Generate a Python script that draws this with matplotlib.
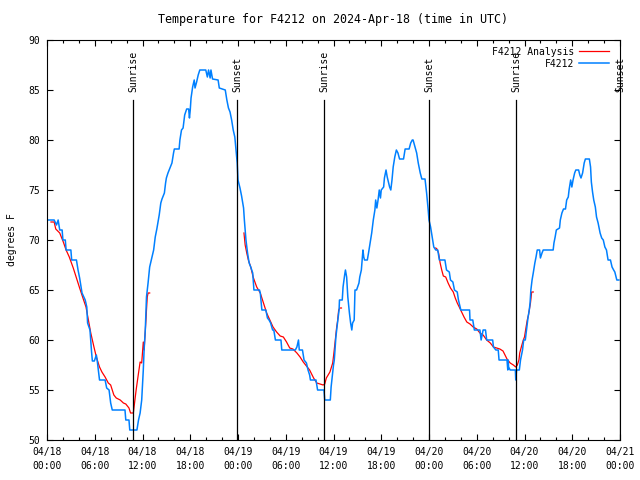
import matplotlib
matplotlib.use("Agg")
import matplotlib.pyplot as plt
import matplotlib.dates as mdates
import numpy as np

# hours since 2024-04-18 00:00 UTC, temperatures in degrees F
obs_hours = [0, 0.9, 1.2, 1.4, 1.6, 1.9, 2.0, 2.3, 2.4, 3.0, 3.1, 3.7, 3.9, 4.1, 4.4, 4.8, 5.0, 5.1,
             5.4, 5.6, 5.7, 5.95, 6.2, 6.3, 6.5, 6.6, 7.3, 7.5, 7.8, 8.0, 8.2, 9.8, 9.9, 10.3, 10.4,
             11.3, 11.5, 11.7, 11.9, 12.1, 12.2, 12.35, 12.5, 12.7, 12.9, 13.1, 13.4, 13.6, 13.8,
             14.1, 14.3, 14.45, 14.75, 14.9, 15.0, 15.2, 15.45, 15.7, 15.9, 16.0, 16.6, 16.7, 16.9,
             17.1, 17.3, 17.55, 17.8, 17.9, 18.0, 18.1, 18.3, 18.5, 18.6, 18.8, 19.0, 19.2, 19.95,
             20.15, 20.3, 20.5, 20.6, 20.8, 21.5, 21.65, 22.4, 22.6, 22.8, 23.0, 23.2, 23.4, 23.6,
             23.75, 23.9, 24.0, 24.25, 24.45, 24.7, 24.8, 24.9, 25.0, 25.2, 25.4, 25.6, 25.85, 26.0,
             26.7, 26.8, 27.0, 27.5, 27.7, 27.9, 28.1, 28.35, 28.5, 28.7, 29.4, 29.5, 31.2, 31.4,
             31.6, 31.7, 32.1, 32.3, 32.6, 32.8, 33.0, 33.1, 33.8, 34.0, 34.8, 34.9, 35.6, 35.7,
             36.0, 36.1, 36.3, 36.5, 36.7, 36.75, 37.1, 37.2, 37.4, 37.5, 37.65, 37.8, 38.0, 38.15,
             38.3, 38.4, 38.6, 38.7, 38.9, 39.2, 39.3, 39.5, 39.7, 39.8, 39.9, 40.25, 40.4, 40.6,
             40.8, 41.0, 41.2, 41.3, 41.45, 41.6, 41.75, 41.9, 42.0, 42.3, 42.4, 42.6, 42.75, 42.9,
             43.05, 43.2, 43.35, 43.5, 43.7, 43.9, 44.1, 44.3, 44.8, 45.0, 45.5, 45.7, 45.9, 46.0,
             46.25, 46.45, 46.65, 46.9, 47.1, 47.5, 47.7, 47.9, 48.0, 48.2, 48.4, 48.6, 48.85, 49.1,
             49.3, 50.0, 50.2, 50.55, 50.7, 51.0, 51.2, 51.55, 51.7, 52.0, 53.1, 53.15, 53.5, 53.7,
             54.4, 54.55, 54.8, 55.1, 55.25, 56.0, 56.1, 56.4, 56.7, 56.8, 57.8, 57.9, 57.95, 58.0,
             58.2, 58.85, 58.9, 59.0, 59.35, 59.5, 59.75, 59.9, 60.1, 60.3, 60.45, 60.6, 60.7, 60.8,
             60.95, 61.1, 61.3, 61.45, 61.6, 61.9, 62.0, 62.2, 62.35, 63.6, 63.7, 63.85, 64.0, 64.4,
             64.5, 64.7, 64.9, 65.15, 65.3, 65.5, 65.6, 65.8, 65.95, 66.1, 66.3, 66.45, 66.8, 66.95,
             67.1, 67.3, 67.5, 67.65, 68.15, 68.3, 68.4, 68.55, 68.7, 68.9, 69.05, 69.25, 69.5, 69.7,
             69.9, 70.1, 70.3, 70.5, 70.8, 71.0, 71.2, 71.35, 71.5, 71.6, 71.85]
obs_temps = [72, 72, 71.5, 72, 71, 71, 70, 70, 69, 69, 68, 68, 67, 66.2, 64.7, 64, 63.3, 61.7,
             61, 58.8, 57.9, 57.9, 58.5, 58, 56.7, 56, 56, 55.2, 55, 53.7, 53, 53, 52, 52, 51,
             51, 52, 52.7, 54, 57, 59, 61, 64.3, 65.7, 67.3, 68, 69, 70.3, 71.1,
             72.5, 73.7, 74.1, 74.7, 75.7, 76.2, 76.7, 77.2, 77.7, 78.7, 79.1, 79.1, 80, 81,
             81.2, 82.5, 83.1, 83.1, 82.2, 83, 84.2, 85.3, 86, 85.2, 85.8, 86.5, 87, 87,
             86.3, 87, 86.2, 87, 86.1, 86, 85.2, 85, 84, 83.2, 82.8, 82, 81, 80.3,
             79, 77.7, 76, 75.2, 74.4, 73.2, 72, 71, 70, 68.7, 67.7, 67.3, 66.7, 65,
             65, 64.7, 63, 63, 62.2, 62, 61.7, 61, 61, 60, 60, 59, 59, 59.3,
             60, 59, 59, 58, 57.7, 57, 56.5, 56, 56, 55, 55, 54, 54, 55.3,
             57.5, 58, 60.3, 61.7, 63, 64, 64, 65.3, 66.5, 67, 66.3, 64.3, 62.7, 61.7,
             61, 61.7, 62, 65, 65, 65.7, 66.3, 67, 69, 68.3, 68, 68, 68.7, 69.7,
             70.7, 72, 73, 74, 73.2, 74, 75, 74.2, 75, 75.3, 76.2, 77, 76.3, 75.8,
             75.3, 75, 76, 77.3, 78.3, 79, 78.7, 78.1, 78.1, 79.1, 79.1, 79.7, 80, 80,
             79.3, 78.7, 77.7, 76.7, 76.1, 76.1, 74.7, 73, 72, 71.3, 70.3, 69.3, 69, 69,
             68, 68, 67, 66.8, 66, 65.8, 65, 64.8, 64, 63, 63, 62, 62, 61,
             61, 60, 61, 61, 60, 60, 59.3, 59, 59, 58, 58, 57, 58, 57.3,
             57, 57, 56, 57, 57, 58, 59, 60, 60, 61.3, 62.3, 63, 63.7, 65,
             66, 66.7, 67.7, 68.3, 69, 69, 68.2, 68.7, 69, 69, 69.7, 70.3, 71, 71.2,
             72, 72.7, 73.1, 73.1, 74, 74.3, 75, 76, 75.3, 76, 76.7, 77, 77, 76.5,
             76.2, 76.7, 77.7, 78.1, 78.1, 77.3, 75.8, 74.8, 74, 73.3, 72.3, 71.7, 70.7, 70.2,
             70, 69.3, 69, 68, 68, 67.3, 67, 66.8, 66.3, 66, 66]

ana1_hours = [0.5, 0.9, 1.1, 1.6, 2.05, 2.4, 2.8, 3.3, 3.7, 4.1, 4.6, 4.9, 5.2, 5.5, 5.9, 6.2,
              6.6, 6.9, 7.3, 7.7, 8.0, 8.4, 8.7, 9.2, 9.6, 9.9, 10.3, 10.5, 10.85, 11.0, 11.2,
              11.5, 11.7, 11.9, 12.1, 12.2, 12.45, 12.5, 12.6, 12.7, 12.9]
ana1_temps = [71.8, 71.8, 71.1, 70.7, 69.8, 69, 68.3, 67.2, 66.2, 65.2, 64, 63.3, 62, 60.7, 59.3,
              58.3, 57.3, 56.8, 56.3, 55.7, 55.5, 54.5, 54.2, 54, 53.7, 53.6, 53.2, 52.7, 52.7,
              53.7, 55, 56.7, 57.8, 57.7, 59.8, 59, 62.2, 63, 64.3, 64.7, 64.7]
ana2_hours = [24.75, 24.9, 25.1, 25.3, 25.6, 25.9, 26.35, 26.8, 27.2, 27.6, 28.0, 28.4, 28.85,
              29.3, 29.7, 30.1, 30.5, 30.9, 31.4, 31.8, 32.2, 32.6, 33.0, 33.5, 33.9, 34.3, 34.7,
              34.9, 35.1, 35.55, 35.9, 36.05, 36.2, 36.4, 36.5, 36.65, 36.8, 37.0]
ana2_temps = [70.7, 69.5, 68.7, 68, 67.3, 66.3, 65.3, 64.7, 63.7, 62.7, 62, 61.3, 60.8, 60.4,
              60.3, 59.8, 59.2, 59.1, 58.7, 58.3, 57.8, 57.4, 57, 56.2, 55.7, 55.6, 55.5, 55.6,
              56.2, 56.8, 57.7, 58.7, 59.8, 61.3, 61.8, 63, 63.2, 63.2]
ana3_hours = [48.85, 49.0, 49.2, 49.4, 49.6, 49.8, 50.1, 50.4, 50.7, 51.05, 51.3, 51.55, 51.8,
              52.1, 52.4, 52.75, 53.15, 53.55, 54.0, 54.4, 54.8, 55.25, 55.7, 56.1, 56.5, 56.9,
              57.3, 57.55, 57.8, 58.2, 58.6, 58.9, 59.1, 59.3, 59.4, 59.6, 59.85, 60.0, 60.2,
              60.35, 60.5, 60.6, 60.75, 60.9, 61.1]
ana3_temps = [69.2, 69.1, 68.7, 67.7, 67, 66.4, 66.3, 65.7, 65.2, 64.8, 64.2, 63.7, 63.3, 62.8,
              62.3, 61.8, 61.6, 61.3, 61.1, 60.7, 60.5, 60, 59.7, 59.3, 59.2, 59.1, 58.9, 58.5,
              58.1, 57.7, 57.5, 57.3, 57.5, 58, 58.7, 59.3, 60, 60.3, 61.3, 62, 62.5, 63, 63.7,
              64.8, 64.8]

sun_hours = [10.85, 23.9, 34.85, 48.03, 58.95, 72.0]
sun_labels = ["Sunrise", "Sunset", "Sunrise", "Sunset", "Sunrise", "Sunset"]

start = np.datetime64("2024-04-18T00:00")


def to_time(hours):
    # hours -> datetime64 (minutes resolution)
    return start + (np.array(hours) * 60).round().astype("timedelta64[m]")


plt.rcParams["font.family"] = "DejaVu Sans Mono"
plt.rcParams["font.size"] = 7

fig = plt.figure(figsize=(6.4, 4.8), dpi=100)
ax = fig.add_axes([47 / 640, 40 / 480, 573 / 640, 400 / 480])

red = "#ff0000"
blue = "#0080ff"
ax.plot(to_time(ana1_hours), ana1_temps, color=red, lw=0.9, label="F4212 Analysis")
ax.plot(to_time(ana2_hours), ana2_temps, color=red, lw=0.9)
ax.plot(to_time(ana3_hours), ana3_temps, color=red, lw=0.9)
ax.plot(to_time(obs_hours), obs_temps, color=blue, lw=1.1, label="F4212")

for h, lab in zip(sun_hours, sun_labels):
    t = to_time([h])[0]
    ax.plot([t, t], [50, 84], color="black", lw=0.9)
    ax.text(t, 84.8, lab, rotation=90, ha="center", va="bottom", clip_on=False)

ax.set_xlim(start, start + np.timedelta64(72, "h"))
ax.set_ylim(50, 90)
ax.set_yticks(range(50, 91, 5))
ax.xaxis.set_major_locator(mdates.HourLocator(byhour=range(0, 24, 6)))
ax.xaxis.set_minor_locator(mdates.HourLocator(byhour=range(0, 24, 2)))
ax.xaxis.set_major_formatter(mdates.DateFormatter("%m/%d\n%H:%M"))
ax.tick_params(which="both", direction="in", top=True, right=True, color="black")
ax.tick_params(which="major", length=4, width=0.8, pad=5)
ax.tick_params(which="minor", length=2, width=0.8)
for s in ax.spines.values():
    s.set_linewidth(0.8)

ax.set_ylabel("degrees F", labelpad=8)
ax.set_title("Temperature for F4212 on 2024-Apr-18 (time in UTC)", pad=12)

ax.legend(loc="upper right", frameon=False, markerfirst=False, handlelength=3.0,
          handletextpad=0.5, labelspacing=0.2, borderaxespad=0.3,
          bbox_to_anchor=(0.992, 1.0))

fig.canvas.draw()
for lbl in ax.get_xticklabels():
    lbl.set_linespacing(1.5)

fig.savefig("out.png", dpi=100)
